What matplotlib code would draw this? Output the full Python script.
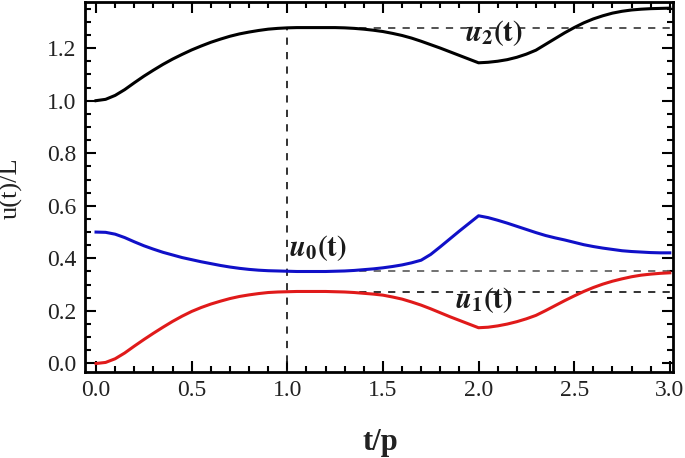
import numpy as np
import matplotlib.pyplot as plt
from matplotlib.ticker import MultipleLocator

# valeurs lues sur la figure, pas de 0.05 en t/p
t = np.linspace(0.0, 3.0, 61)
u2 = [1.000, 1.005, 1.020, 1.042, 1.068, 1.093, 1.116, 1.138, 1.158, 1.176,
      1.193, 1.208, 1.222, 1.234, 1.245, 1.254, 1.261, 1.267, 1.272, 1.275,
      1.277, 1.278, 1.278, 1.278, 1.278, 1.278, 1.277, 1.275, 1.272, 1.268,
      1.263, 1.256, 1.248, 1.238, 1.226, 1.213, 1.200, 1.186, 1.172, 1.158,
      1.144, 1.146, 1.150, 1.156, 1.165, 1.177, 1.192, 1.214, 1.236, 1.258,
      1.278, 1.296, 1.311, 1.323, 1.333, 1.340, 1.345, 1.348, 1.350, 1.351,
      1.352]
u0 = [0.500, 0.499, 0.492, 0.479, 0.463, 0.448, 0.435, 0.423, 0.413, 0.403,
      0.395, 0.387, 0.380, 0.373, 0.367, 0.362, 0.358, 0.355, 0.353, 0.352,
      0.351, 0.350, 0.350, 0.350, 0.350, 0.351, 0.352, 0.354, 0.357, 0.360,
      0.364, 0.369, 0.375, 0.383, 0.393, 0.415, 0.444, 0.474, 0.504, 0.533,
      0.562, 0.555, 0.545, 0.534, 0.522, 0.510, 0.498, 0.487, 0.478, 0.470,
      0.461, 0.452, 0.445, 0.439, 0.434, 0.429, 0.426, 0.424, 0.422, 0.421,
      0.421]
u1 = [0.000, 0.004, 0.018, 0.040, 0.066, 0.091, 0.115, 0.138, 0.160, 0.180,
      0.198, 0.213, 0.226, 0.237, 0.247, 0.255, 0.261, 0.266, 0.270, 0.272,
      0.273, 0.274, 0.274, 0.274, 0.274, 0.273, 0.272, 0.270, 0.267, 0.264,
      0.260, 0.253, 0.245, 0.234, 0.222, 0.208, 0.193, 0.178, 0.164, 0.150,
      0.136, 0.138, 0.143, 0.150, 0.159, 0.170, 0.183, 0.201, 0.220, 0.239,
      0.257, 0.274, 0.289, 0.302, 0.313, 0.322, 0.330, 0.336, 0.340, 0.343,
      0.345]
t_ref = 1.0
ref_u2, ref_u0, ref_u1 = 1.277, 0.353, 0.273

plt.rcParams['font.family'] = 'Liberation Serif'
plt.rcParams['mathtext.fontset'] = 'stix'

fig = plt.figure(figsize=(6.85, 4.58), dpi=100)
ax = fig.add_axes([0.124, 0.188, 0.858, 0.808])

# lignes de repère pointillées
dash = (0, (4, 4))
ax.plot([t_ref, t_ref], [-0.05, ref_u2], color='#222222', lw=1.3, ls=dash)
ax.plot([t_ref, 3.0], [ref_u2, ref_u2], color='#444444', lw=1.3, ls=dash)
ax.plot([t_ref, 3.0], [ref_u0, ref_u0], color='#666666', lw=1.3, ls=dash)
ax.plot([t_ref, 3.0], [ref_u1, ref_u1], color='#222222', lw=1.3, ls=dash)

# courbes
ax.plot(t, u2, color='black', lw=2.2)
ax.plot(t, u0, color='#1010c8', lw=2.2)
ax.plot(t, u1, color='#e01a1a', lw=2.2)

# étiquettes des courbes
lab = dict(fontsize=21, ha='center', va='center', color='#1a1a1a')
ax.text(2.08, 1.258, r'$\mathbfit{u}_{\mathbf{2}}\mathbf{(t)}$', **lab)
ax.text(1.16, 0.44, r'$\mathbfit{u}_{\mathbf{0}}\mathbf{(t)}$', **lab)
ax.text(2.03, 0.241, r'$\mathbfit{u}_{\mathbf{1}}\mathbf{(t)}$', **lab)

ax.set_xlim(-0.058, 3.015)
ax.set_ylim(-0.032, 1.376)
ax.xaxis.set_major_locator(MultipleLocator(0.5))
ax.xaxis.set_minor_locator(MultipleLocator(0.1))
ax.yaxis.set_major_locator(MultipleLocator(0.2))
ax.yaxis.set_minor_locator(MultipleLocator(0.05))
ax.xaxis.set_major_formatter(plt.FormatStrFormatter('%.1f'))
ax.yaxis.set_major_formatter(plt.FormatStrFormatter('%.1f'))

ax.tick_params(which='both', direction='in', top=True, right=True, width=1.5,
               labelsize=17, labelcolor='#222222')
ax.tick_params(which='major', length=8, pad=6)
ax.tick_params(which='minor', length=4.5)
for s in ax.spines.values():
    s.set_linewidth(2)

ax.set_xlabel('t/p', fontsize=22, fontweight='bold', color='#222222')
ax.xaxis.set_label_coords(0.502, -0.152)
ax.set_ylabel('u(t)/L', fontsize=19, color='#222222')
ax.yaxis.set_label_coords(-0.106, 0.497)

plt.savefig('out.png', dpi=100)
plt.close()
